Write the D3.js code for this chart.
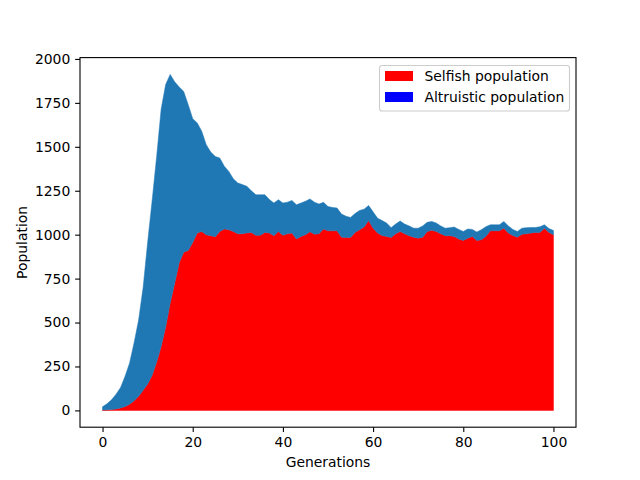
<!DOCTYPE html>
<html><head><meta charset="utf-8">
<script src="https://cdn.jsdelivr.net/npm/d3@7"></script>
<style>body{margin:0;background:#fff}text{font-family:"DejaVu Sans",sans-serif}</style>
</head><body>
<script>
const generations = d3.range(0, 101);
const selfish = [2,3,5,8,14,22,35,55,80,115,150,200,275,363,475,610,724,840,900,910,
955,1009,1018,999,994,988,1018,1032,1028,1018,1005,1005,1010,1012,996,996,1013,1009,994,1018,
996,1005,1009,975,990,1000,1016,1003,1005,1032,1022,1022,1022,986,984,984,1013,1028,1043,1081,
1037,1009,995,990,984,1005,1018,1005,994,986,980,986,1018,1025,1018,1005,994,994,990,975,
967,980,990,967,971,990,1022,1022,1022,1037,1009,995,986,1003,1005,1009,1013,1013,1037,1013,999];
const altruistic = [19,35,55,84,116,173,235,330,435,585,805,995,1170,1352,1380,1302,1146,1000,915,830,
705,627,570,513,476,457,418,358,332,300,289,280,265,238,231,231,214,191,186,181,
184,180,186,195,190,190,187,182,169,152,138,133,130,131,121,114,107,110,102,85,
93,85,85,76,56,55,60,55,56,51,57,64,52,50,48,45,43,46,53,55,
51,52,40,48,57,55,34,34,34,38,41,35,32,34,35,32,28,32,19,22,25];
const seriesNames = ["Selfish population", "Altruistic population"];
const xTicks = [0, 20, 40, 60, 80, 100];
const yTicks = [0, 250, 500, 750, 1000, 1250, 1500, 1750, 2000];

const W = 640, H = 480;
const L = 80, R = 576, T = 57.6, B = 427.2;
const svg = d3.select("body").append("svg").attr("width", W).attr("height", H);

const rows = generations.map((g, i) => ({g, selfish: selfish[i], altruistic: altruistic[i]}));
const totals = rows.map(d => d.selfish + d.altruistic);
const yMax = d3.max(totals);
const x = d3.scaleLinear().domain([-5, 105]).range([L, R]);
const y = d3.scaleLinear().domain([-0.05 * yMax, 1.05 * yMax]).range([B, T]);

const stacked = d3.stack().keys(["selfish", "altruistic"])(rows);
const fills = ["#ff0000", "#1f77b4"];
const area = d3.area().x(d => x(d.data.g)).y0(d => y(d[0])).y1(d => y(d[1]));
svg.selectAll("path.layer").data(stacked).join("path")
  .attr("class", "layer")
  .attr("d", area)
  .attr("fill", (d, i) => fills[i])
  .attr("stroke", (d, i) => fills[i])
  .attr("stroke-width", 0.5);

const fs = 13.9, tick = 4.86;
const xAxis = svg.append("g").attr("transform", `translate(0,${B})`)
  .call(d3.axisBottom(x).tickValues(xTicks).tickSize(tick).tickPadding(4.9).tickFormat(d3.format("d")));
const yAxis = svg.append("g").attr("transform", `translate(${L},0)`)
  .call(d3.axisLeft(y).tickValues(yTicks).tickSize(tick).tickPadding(4.9).tickFormat(d3.format("d")));
[xAxis, yAxis].forEach(a => {
  a.select(".domain").remove();
  a.selectAll("line").attr("stroke", "#000").attr("stroke-width", 1.1);
  a.selectAll("text").attr("font-size", fs).attr("fill", "#000").attr("font-family", "DejaVu Sans");
});

svg.append("rect").attr("x", L).attr("y", T).attr("width", R - L).attr("height", B - T)
  .attr("fill", "none").attr("stroke", "#000").attr("stroke-width", 1.1);

svg.append("text").attr("x", (L + R) / 2).attr("y", 467).attr("text-anchor", "middle")
  .attr("font-size", fs).text("Generations");
svg.append("text").attr("transform", `translate(27,${(T + B) / 2}) rotate(-90)`)
  .attr("text-anchor", "middle").attr("font-size", fs).text("Population");

const lg = svg.append("g");
lg.append("rect").attr("x", 379.5).attr("y", 65.5).attr("width", 190).attr("height", 45.5)
  .attr("rx", 2.8).attr("fill", "#fff").attr("fill-opacity", 0.8)
  .attr("stroke", "#cccccc").attr("stroke-width", 1.1);
const legendColors = ["#ff0000", "#0000ff"];
seriesNames.forEach((n, i) => {
  const yy = 71 + i * 21;
  lg.append("rect").attr("x", 385).attr("y", yy).attr("width", 28).attr("height", 10).attr("fill", legendColors[i]);
  lg.append("text").attr("x", 424.5).attr("y", yy + 10).attr("font-size", fs).text(n);
});
</script>
</body></html>
